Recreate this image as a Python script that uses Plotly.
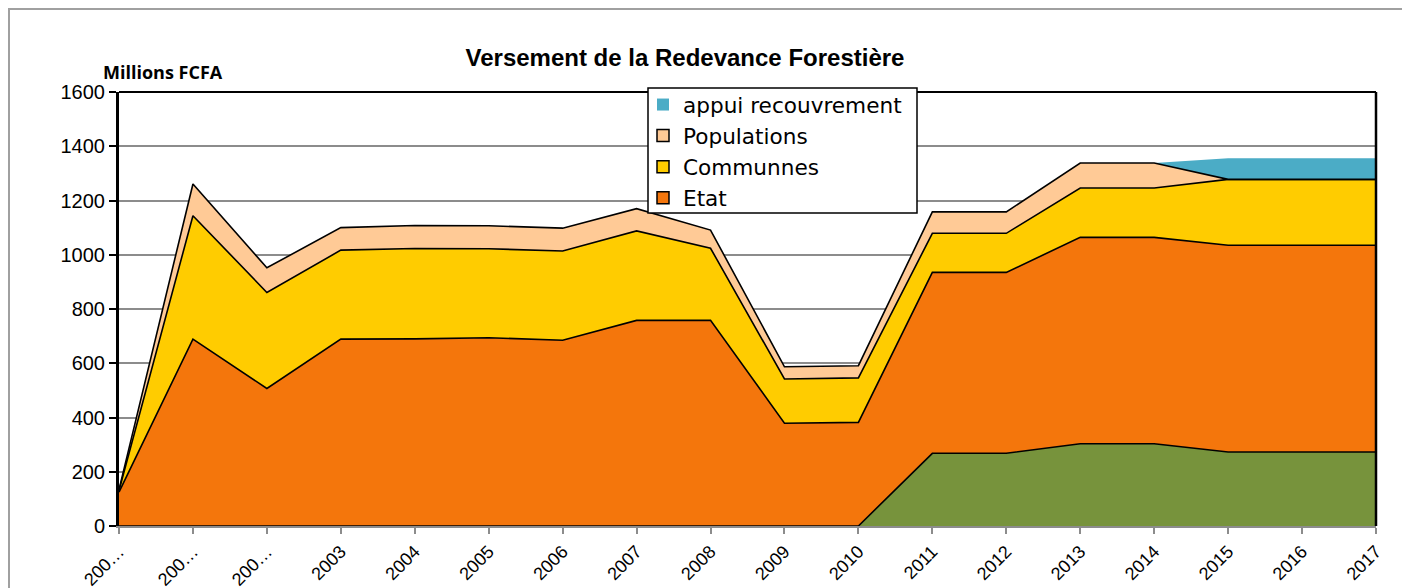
import plotly.graph_objects as go

# ---- data (Millions FCFA) ----
labels = ["200…", "200…", "200…", "2003", "2004", "2005", "2006", "2007", "2008",
          "2009", "2010", "2011", "2012", "2013", "2014", "2015", "2016", "2017"]
autre = [0, 0, 0, 0, 0, 0, 0, 0, 0, 0, 0, 268, 268, 303, 303, 273, 273, 273]
etat = [125, 689, 507, 689, 690, 694, 685, 758, 758, 379, 382, 667, 667, 761, 761, 762, 762, 762]
communnes = [6, 455, 354, 328, 333, 328, 329, 330, 266, 163, 164, 144, 144, 182, 182, 243, 243, 243]
populations = [3, 117, 91, 83, 85, 85, 84, 82, 67, 45, 45, 79, 79, 92, 92, 0, 0, 0]
appui = [0, 0, 0, 0, 0, 0, 0, 0, 0, 0, 0, 0, 0, 0, 0, 78, 78, 78]

legend_names = ["appui recouvrement", "Populations", "Communnes", "Etat"]

C_GREEN = "#77933C"
C_ETAT = "#F4760C"
C_COMM = "#FFCC00"
C_POP = "#FFCA96"
C_APPUI = "#4BACC6"

xs = list(range(len(labels)))
fig = go.Figure()

def area(y, color, name, lw=1.6):
    fig.add_trace(go.Scatter(
        x=xs, y=y, name=name, mode="lines", stackgroup="one",
        line=dict(color="black" if lw > 0 else color, width=lw),
        fillcolor=color, showlegend=False, hoverinfo="x+y+name"))

area(autre, C_GREEN, "autre")
area(etat, C_ETAT, "Etat")
area(communnes, C_COMM, "Communnes")
area(populations, C_POP, "Populations")
area(appui, C_APPUI, "appui recouvrement", lw=0)

# legend entries (square swatches like the original)
leg_colors = {"appui recouvrement": C_APPUI, "Populations": C_POP,
              "Communnes": C_COMM, "Etat": C_ETAT}
for n in legend_names:
    fig.add_trace(go.Bar(
        x=[None], y=[None], name=n,
        marker=dict(color=leg_colors[n],
                    line=dict(color="black", width=0 if n == "appui recouvrement" else 1.5)),
        showlegend=True))

# page has an 8px body margin -> figure is 1402x580 placed at (8, 8)
OFF = 8
W, H = 1410 - OFF, 588 - OFF
# plot area in page pixels: x 119..1376, y 92..526
PL, PR, PT, PB = 119, 1376, 92, 526
L, T = PL - OFF, PT - OFF
R, B = W - (PR - OFF), H - (PB - OFF)
pw, ph = PR - PL, PB - PT

def px2x(px):
    return (px - PL) / pw

def py2y(py):
    return (PB - py) / ph

fig.update_layout(
    width=W, height=H,
    margin=dict(l=L, r=R, t=T, b=B, autoexpand=False),
    paper_bgcolor="white", plot_bgcolor="white",
    font=dict(family="Liberation Sans, Arial, sans-serif", color="black"),
    title=dict(text="<b>Versement de la Redevance Forestière</b>",
               x=(685 - OFF) / W, xanchor="center", y=1 - (58 - OFF) / H, yanchor="middle",
               xref="container", yref="container",
               font=dict(family="Liberation Sans, Arial, sans-serif", size=24, color="black")),
    showlegend=True,
    legend=dict(x=px2x(643), y=py2y(84), xanchor="left", yanchor="top",
                bgcolor="rgba(0,0,0,0)", borderwidth=0,
                traceorder="normal", itemwidth=30,
                font=dict(family="DejaVu Sans, sans-serif", size=21.6, color="black")),
    xaxis=dict(type="linear", range=[0, len(labels) - 1], automargin=False,
               tickmode="array", tickvals=xs, ticktext=labels,
               tickangle=-45, tickfont=dict(size=18),
               showgrid=False, zeroline=False,
               showline=True, linecolor="#8c8c8c", linewidth=2,
               ticks="outside", ticklen=6, tickcolor="#8c8c8c", tickwidth=2),
    yaxis=dict(range=[0, 1600], dtick=200, tickfont=dict(size=20), automargin=False,
               showgrid=True, gridcolor="#8c8c8c", gridwidth=2,
               zeroline=False, showline=True, linecolor="black", linewidth=3,
               ticks="outside", ticklen=7, tickcolor="black", tickwidth=2),
    annotations=[dict(text="<b>Millions FCFA</b>", xref="paper", yref="paper",
                      x=px2x(163), y=py2y(72), xanchor="center", yanchor="middle",
                      showarrow=False,
                      font=dict(family="Open Sans, sans-serif", size=18, color="black"))],
    shapes=[
        dict(type="line", xref="paper", yref="paper", x0=0, x1=1, y0=1, y1=1,
             line=dict(color="black", width=2)),
        dict(type="line", xref="paper", yref="paper", x0=1, x1=1, y0=0, y1=1,
             line=dict(color="black", width=2.5)),
        dict(type="rect", xref="paper", yref="paper",
             x0=px2x(OFF + 1), x1=px2x(1430), y0=py2y(OFF + 1), y1=py2y(620),
             line=dict(color="#a0a0a0", width=2), layer="below"),
        # legend frame
        dict(type="rect", xref="paper", yref="paper",
             x0=px2x(648), x1=px2x(917), y0=py2y(213), y1=py2y(88),
             fillcolor="white", line=dict(color="black", width=1.5), layer="above"),
    ],
)

fig.write_html("out.html")
